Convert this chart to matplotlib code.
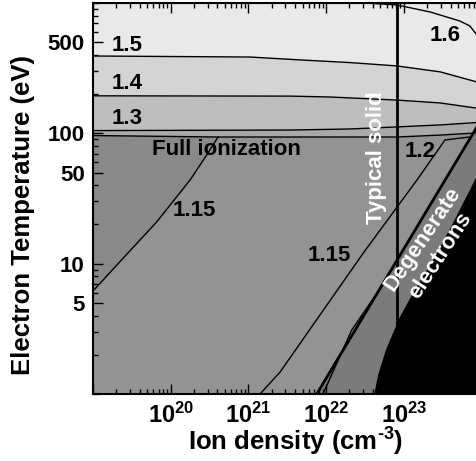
import matplotlib
matplotlib.use("Agg")
import matplotlib.pyplot as plt
import numpy as np
from matplotlib.ticker import FixedLocator, FixedFormatter, LogLocator, NullFormatter

plt.rcParams['font.family'] = ['Liberation Sans', 'DejaVu Sans']
plt.rcParams['font.weight'] = 'bold'
plt.rcParams['mathtext.fontset'] = 'custom'
plt.rcParams['mathtext.rm'] = 'Liberation Sans:bold'
plt.rcParams['mathtext.it'] = 'Liberation Sans:bold'
plt.rcParams['mathtext.bf'] = 'Liberation Sans:bold'

# Contours: log10(ion density / cm^-3) against electron temperature (eV)
c16_logn = [22.50, 22.91, 23.34, 23.72, 23.85, 23.94, 24.0]
c16_T = [1000, 966, 853, 728, 667, 568, 500]
c15_logn = [19.0, 21.02, 21.66, 22.31, 22.91, 23.47, 23.94, 24.0]
c15_T = [392, 385, 366, 349, 329, 296, 248, 240]
c14_logn = [19.0, 21.54, 22.05, 22.91, 23.47, 23.94, 24.0]
c14_T = [194, 193, 190, 180, 171, 156, 153]
c13_logn = [19.0, 21.54, 22.31, 22.91, 23.47, 23.94, 24.0]
c13_T = [105, 106, 108, 112, 116, 121, 122]
c12_logn = [19.0, 20.61, 22.91, 23.47, 23.94, 24.0]
c12_T = [96.2, 93.7, 93.7, 97.0, 100.7, 101.5]
c115a_logn = [19.0, 19.39, 19.82, 20.25, 20.48, 20.61]
c115a_T = [6.17, 11.05, 20.9, 43.9, 70.6, 93.7]
c115b_logn = [21.15, 21.41, 22.48, 23.17, 23.53, 23.85]
c115b_T = [1.0, 1.48, 12.1, 43.9, 88.9, 93.8]

# Degeneracy boundaries
fermi_logn = [21.88, 24.0]
fermi_T = [1.0, 128.0]
fermi2_logn = [21.96, 22.33, 22.73]
fermi2_T = [1.0, 3.1, 6.9]
degen_logn = [22.62, 22.67, 22.77, 22.95, 23.14, 23.38, 23.62, 23.85, 23.99, 24.0]
degen_T = [1.0, 1.40, 2.18, 3.90, 6.28, 10.7, 19.8, 36.7, 54.2, 56.0]

# Typical solid density
solid_logn = 22.91

xticks_major = [1e19, 1e20, 1e21, 1e22, 1e23, 1e24]
xtick_labels = ['', r'$10^{20}$', r'$10^{21}$', r'$10^{22}$', r'$10^{23}$', '']
yticks_major = [5, 10, 50, 100, 500]
ytick_labels = ['5', '10', '50', '100', '500']


def n(logs):
    return 10.0 ** np.asarray(logs)


fig = plt.figure(figsize=(4.77, 4.61), dpi=100)
ax = fig.add_axes([93 / 477, 67 / 461, 388.5 / 477, 391 / 461])
ax.set_xscale('log')
ax.set_yscale('log')
ax.set_xlim(1e19, 1e24)
ax.set_ylim(1, 1000)
ax.set_facecolor('#e9e9e9')

ax.fill_between(n(c15_logn), c15_T, 1, color='#d4d4d4', lw=0)
ax.fill_between(n(c14_logn), c14_T, 1, color='#bebebe', lw=0)
ax.fill_between(n(c13_logn), c13_T, 1, color='#a9a9a9', lw=0)
ax.fill_between(n(c12_logn), c12_T, 1, color='#939393', lw=0)

# low-density corner
ax.fill(np.r_[n(c115a_logn), 1e19], np.r_[c115a_T, c12_T[0]], color='#898989', lw=0)

# degenerate band
ax.fill(np.r_[n(fermi_logn), 1e24, n(fermi_logn[0])], np.r_[fermi_T, 1, 1],
        color='#7b7b7b', lw=0)

lines_thin = [(c16_logn, c16_T), (c15_logn, c15_T), (c14_logn, c14_T),
              (c13_logn, c13_T), (c12_logn, c12_T), (c115a_logn, c115a_T),
              (c115b_logn, c115b_T), (fermi2_logn, fermi2_T)]
for lg, tt in lines_thin:
    ax.plot(n(lg), tt, color='black', lw=1.0)
ax.plot(n(fermi_logn), fermi_T, color='black', lw=2.0)
ax.plot([10 ** solid_logn] * 2, [1, 1000], color='black', lw=2.0)

# degenerate electrons
ax.fill(np.r_[n(degen_logn), 1e24], np.r_[degen_T, 1], color='black', lw=0, zorder=3)

lab = dict(fontsize=16, fontweight='bold', color='black', ha='left', va='center')
ax.text(10 ** 19.245, 476, '1.5', **lab)
ax.text(10 ** 19.245, 243, '1.4', **lab)
ax.text(10 ** 19.245, 129, '1.3', **lab)
ax.text(10 ** 23.337, 559, '1.6', **lab)
ax.text(10 ** 19.759, 74.5, 'Full ionization', **lab)
ax.text(10 ** 20.03, 25.4, '1.15', **lab)
ax.text(10 ** 21.767, 11.6, '1.15', **lab)
ax.text(10 ** 23.015, 73.1, '1.2', **lab)

wl = dict(fontsize=16, fontweight='bold', color='white', ha='center', va='center', zorder=4)
ax.text(10 ** 22.655, 64.7, 'Typical solid', rotation=90, **wl)
ax.text(10 ** 23.247, 15.5, 'Degenerate', rotation=56, **wl)
ax.text(10 ** 23.466, 11.5, 'electrons', rotation=57, **wl)

ax.xaxis.set_major_locator(FixedLocator(xticks_major))
ax.xaxis.set_major_formatter(FixedFormatter(xtick_labels))
ax.xaxis.set_minor_locator(LogLocator(base=10, subs=np.arange(2, 10)))
ax.xaxis.set_minor_formatter(NullFormatter())
ax.yaxis.set_major_locator(FixedLocator(yticks_major))
ax.yaxis.set_major_formatter(FixedFormatter(ytick_labels))
ax.yaxis.set_minor_locator(LogLocator(base=10, subs=np.arange(1, 10)))
ax.yaxis.set_minor_formatter(NullFormatter())

ax.tick_params(which='both', direction='in', top=True, right=False, width=1.0, zorder=5)
ax.tick_params(axis='y', labelsize=16)
ax.tick_params(axis='x', labelsize=17)
ax.tick_params(which='major', length=7, pad=6)
ax.tick_params(which='minor', length=3.5)
for lbl in ax.get_xticklabels() + ax.get_yticklabels():
    lbl.set_fontweight('bold')
for s in ax.spines.values():
    s.set_linewidth(1.5)
    s.set_zorder(6)

fig.text(23 / 477, 1 - 215 / 461, 'Electron Temperature (eV)', rotation=90,
         fontsize=18.5, fontweight='bold', ha='center', va='center')
fig.text(295.5 / 477, 10 / 461, r'Ion density (cm$^{\text{-3}}$)', fontsize=18.5,
         fontweight='bold', ha='center', va='baseline')

fig.savefig('out.png', dpi=100)
